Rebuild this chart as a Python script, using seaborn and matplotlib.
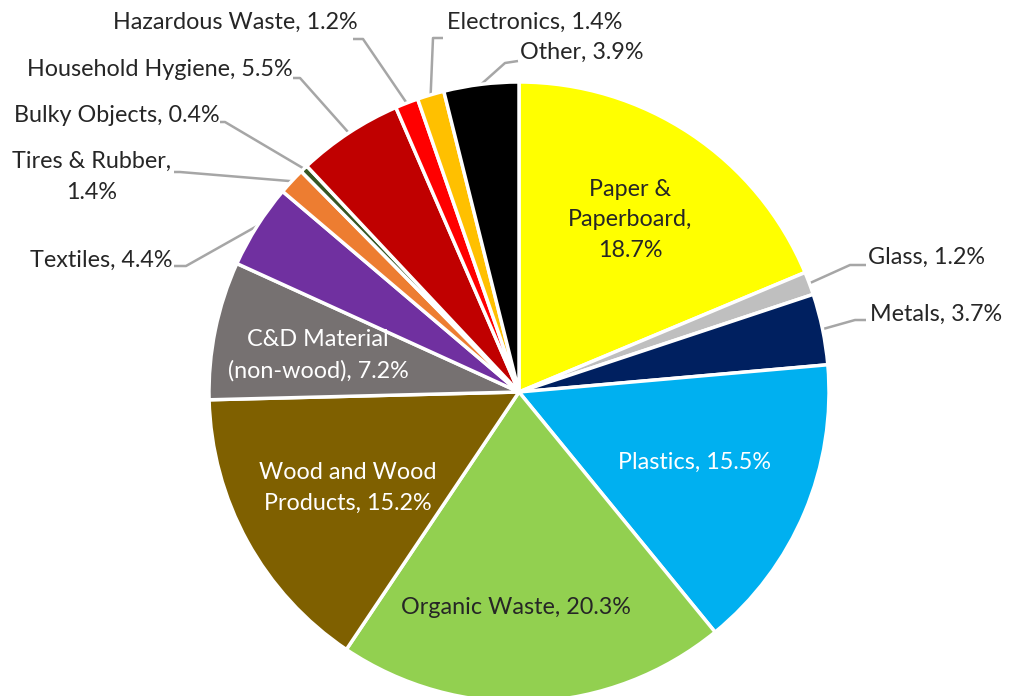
import matplotlib
matplotlib.use("Agg")
import matplotlib.pyplot as plt
import seaborn as sns
import numpy as np

# Composition of the waste stream, clockwise from 12 o'clock
categories = [
    "Paper &\nPaperboard", "Glass", "Metals", "Plastics", "Organic Waste",
    "Wood and Wood\nProducts", "C&D Material\n(non-wood)", "Textiles",
    "Tires & Rubber", "Bulky Objects", "Household Hygiene",
    "Hazardous Waste", "Electronics", "Other",
]
shares = [18.7, 1.2, 3.7, 15.5, 20.3, 15.2, 7.2, 4.4, 1.4, 0.4, 5.5, 1.2, 1.4, 3.9]
separators = [",\n", ", ", ", ", ", ", ", ", ", ", ", ", ", ", ",\n", ", ", ", ", ", ", ", ", ", "]
colors = [
    "#FFFF00", "#BFBFBF", "#002060", "#00B0F0", "#92D050", "#7F6000", "#767171",
    "#7030A0", "#ED7D31", "#375623", "#C00000", "#FF0000", "#FFC000", "#000000",
]

W, H = 1009, 696
CX, CY, R = 519, 392, 310

sns.set_theme(style="white")
plt.rcParams["font.family"] = ["Lato", "DejaVu Sans"]

fig = plt.figure(figsize=(W / 100, H / 100), dpi=100)
ax = fig.add_axes([0, 0, 1, 1])

wedges, _ = ax.pie(
    shares, colors=colors, startangle=90, counterclock=False,
    center=(CX, H - CY), radius=R,
    wedgeprops=dict(edgecolor="white", linewidth=2.5),
)
ax.set_xlim(0, W)
ax.set_ylim(0, H)
ax.set_aspect("equal")
ax.axis("off")

labels = [f"{c}{s}{v:.1f}%" for c, s, v in zip(categories, separators, shares)]
text_color = "#262626"
fs = 16.8
ls = 1.58

# Labels inside the slices: (x, y, colour) in pixel space, y from top
inside = {
    0: (630, 220, text_color),
    3: (694, 462, "white"),
    4: (516, 608, text_color),
    5: (348, 488, "white"),
    6: (318, 355, "white"),
}
for i, (x, y, col) in inside.items():
    ax.text(x, H - y, labels[i], ha="center", va="center", fontsize=fs,
            color=col, multialignment="center", linespacing=ls)

# Labels outside with leader lines: text anchor, alignment, line start, elbow
outside = {
    1: ((868, 257), "left", (866, 265), (850, 265)),
    2: ((870, 314), "left", (866, 320), (855, 320)),
    7: ((172, 260), "right", (174, 266), (186, 266)),
    8: ((92, 177), "center", (174, 172), (180, 172)),
    9: ((220, 116), "right", (220, 122), (225, 122)),
    10: ((293, 70), "right", (293, 78), (300, 78)),
    11: ((358, 22), "right", (353, 39), (363, 39)),
    12: ((447, 22), "left", (443, 38), (433, 38)),
    13: ((520, 52), "left", (518, 61), (505, 63)),
}
for i, ((tx, ty), ha, start, elbow) in outside.items():
    ax.text(tx, H - ty, labels[i], ha=ha, va="center", fontsize=fs,
            color=text_color, multialignment="center", linespacing=ls)
    w = wedges[i]
    mid = np.deg2rad((w.theta1 + w.theta2) / 2)
    ex = w.center[0] + w.r * np.cos(mid)
    ey = w.center[1] + w.r * np.sin(mid)
    ax.plot([start[0], elbow[0], ex], [H - start[1], H - elbow[1], ey],
            color="#A6A6A6", linewidth=1.8, solid_capstyle="butt", zorder=0.5)

fig.savefig("out.png", dpi=100, facecolor="white")
